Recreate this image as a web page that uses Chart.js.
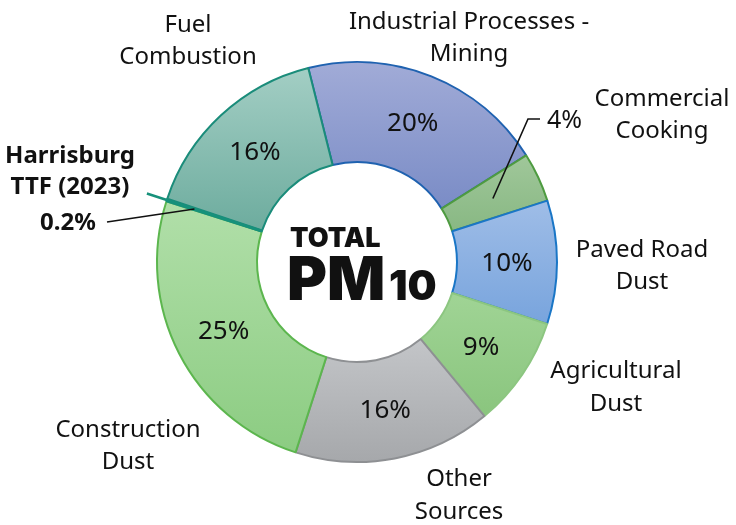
<!DOCTYPE html>
<html>
<head>
<meta charset="utf-8">
<script src="https://cdn.jsdelivr.net/npm/chart.js@4/dist/chart.umd.min.js"></script>
<style>
  html, body { margin: 0; padding: 0; background: #fff; }
  #wrap { width: 736px; height: 525px; position: relative; }
</style>
</head>
<body>
<div id="wrap"><canvas id="pmChart" width="736" height="525"></canvas></div>
<script>
  // slices, clockwise from Industrial Processes
  const categories = [
    ['Industrial Processes -', 'Mining'],
    ['Commercial', 'Cooking'],
    ['Paved Road', 'Dust'],
    ['Agricultural', 'Dust'],
    ['Other', 'Sources'],
    ['Construction', 'Dust'],
    ['Harrisburg', 'TTF (2023)'],
    ['Fuel', 'Combustion']
  ];
  const shares = [20, 4, 10, 9, 16, 25, 0.2, 16];
  const percentLabels = shares.map(v => v + '%');

  const topColors    = ['#a1abd7', '#a0c79a', '#9fbde7', '#a0d495', '#c3c5c8', '#b1dfa9', '#17917b', '#a3cec4'];
  const bottomColors = ['#7a8cc6', '#88b883', '#78a4dd', '#8ac57e', '#a6a8ab', '#8ccc82', '#17917b', '#6dac9e'];
  const borderColors = ['#1f62b0', '#4e9b40', '#1a76c6', '#8cc680', '#8e9093', '#5cb64e', '#17917b', '#1a8c7a'];

  const ROTATION = -14.1;

  // label placement (center x, first baseline y)
  const nameLayout = [
    { x: 469, y: 29 }, { x: 662, y: 106 }, { x: 642, y: 257 }, { x: 616, y: 378 },
    { x: 459, y: 486 }, { x: 128, y: 437 }, { x: 70, y: 163, bold: true }, { x: 188, y: 32 }
  ];
  const lineGap = [32, 32, 32, 33, 33, 32, 31, 32];

  function sliceGradient(context) {
    const i = context.dataIndex;
    const chart = context.chart;
    const area = chart.chartArea;
    if (!area) return topColors[i];
    const cx = (area.left + area.right) / 2;
    const cy = (area.top + area.bottom) / 2;
    const R = (Math.min(area.right - area.left, area.bottom - area.top) - 2) / 2;
    const total = shares.reduce((a, b) => a + b, 0);
    let before = 0;
    for (let k = 0; k < i; k++) before += shares[k];
    const a0 = (ROTATION - 90) * Math.PI / 180 + before / total * 2 * Math.PI;
    const a1 = a0 + shares[i] / total * 2 * Math.PI;
    let minY = Infinity, maxY = -Infinity;
    for (let s = 0; s <= 30; s++) {
      const a = a0 + (a1 - a0) * s / 30;
      [R / 2, R].forEach(rr => {
        const y = cy + rr * Math.sin(a);
        minY = Math.min(minY, y);
        maxY = Math.max(maxY, y);
      });
    }
    if (maxY - minY < 1) maxY = minY + 1;
    const g = chart.ctx.createLinearGradient(0, minY, 0, maxY);
    g.addColorStop(0, topColors[i]);
    g.addColorStop(1, bottomColors[i]);
    return g;
  }

  const labelPlugin = {
    id: 'pmLabels',
    afterDatasetsDraw(chart) {
      const ctx = chart.ctx;
      const arcs = chart.getDatasetMeta(0).data;
      ctx.save();

      // Harrisburg slice: thin teal stroke that sticks out of the ring
      const h = arcs[6];
      const hm = (h.startAngle + h.endAngle) / 2;
      ctx.strokeStyle = '#17917b';
      ctx.lineWidth = 2.5;
      ctx.beginPath();
      ctx.moveTo(h.x + (h.innerRadius + 1) * Math.cos(hm), h.y + (h.innerRadius + 1) * Math.sin(hm));
      ctx.lineTo(h.x + (h.outerRadius + 21) * Math.cos(hm), h.y + (h.outerRadius + 21) * Math.sin(hm));
      ctx.stroke();

      // leader lines
      ctx.strokeStyle = '#111';
      ctx.lineWidth = 1.6;
      const c = arcs[1].tooltipPosition();
      ctx.beginPath();
      ctx.moveTo(c.x, c.y);
      ctx.lineTo(528, 119);
      ctx.lineTo(540, 119);
      ctx.stroke();

      const hr = h.innerRadius + 0.71 * (h.outerRadius - h.innerRadius);
      ctx.beginPath();
      ctx.moveTo(h.x + hr * Math.cos(hm), h.y + hr * Math.sin(hm));
      ctx.lineTo(107, 222);
      ctx.stroke();

      // percentages inside the ring
      ctx.fillStyle = '#111';
      ctx.textAlign = 'center';
      ctx.textBaseline = 'middle';
      ctx.font = '26px "Noto Sans"';
      arcs.forEach((arc, i) => {
        if (i === 1 || i === 6) return;
        const p = arc.tooltipPosition();
        ctx.fillText(percentLabels[i], p.x, p.y + 1);
      });

      // percentages outside
      ctx.textBaseline = 'alphabetic';
      ctx.textAlign = 'left';
      ctx.font = '25px "Noto Sans"';
      ctx.fillText(percentLabels[1], 547, 128);
      ctx.textAlign = 'center';
      ctx.font = 'bold 24px "Noto Sans"';
      ctx.fillText(percentLabels[6], 68, 230);

      // category names
      categories.forEach((lines, i) => {
        const L = nameLayout[i];
        ctx.font = (L.bold ? 'bold ' : '') + '24px "Noto Sans"';
        lines.forEach((t, j) => ctx.fillText(t, L.x, L.y + j * lineGap[i]));
      });

      // centre title
      ctx.textAlign = 'left';
      ctx.font = '900 27px "Inter"';
      ctx.fillText('TOTAL', 290, 247);
      ctx.font = '900 61px "Inter"';
      ctx.fillText('PM', 287, 300);
      ctx.font = '900 41px "Inter"';
      ctx.fillText('10', 389, 300);

      ctx.restore();
    }
  };

  new Chart(document.getElementById('pmChart'), {
    type: 'doughnut',
    data: {
      labels: categories,
      datasets: [{
        data: shares,
        backgroundColor: sliceGradient,
        borderColor: borderColors,
        borderWidth: 2
      }]
    },
    options: {
      responsive: false,
      animation: false,
      events: [],
      rotation: ROTATION,
      cutout: '50%',
      layout: { padding: { left: 156, right: 178, top: 61, bottom: 62 } },
      plugins: {
        legend: { display: false },
        tooltip: { enabled: false }
      }
    },
    plugins: [labelPlugin]
  });
</script>
</body>
</html>
